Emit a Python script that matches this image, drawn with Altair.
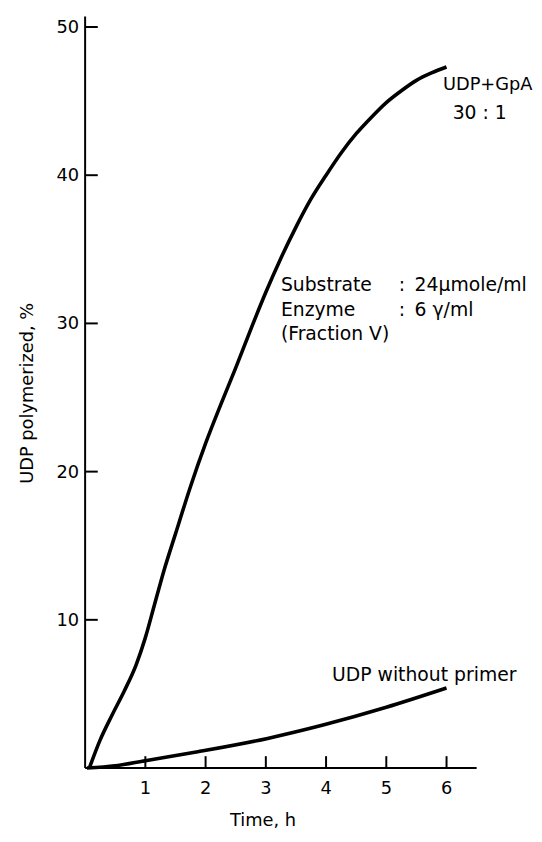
import altair as alt
import pandas as pd

# --- data ---
gpa_time = [0.07, 0.25, 0.45, 0.65, 0.85, 1.0, 1.15, 1.3, 1.5, 1.75, 2.0, 2.25, 2.5, 2.75,
            3.0, 3.25, 3.5, 3.75, 4.0, 4.25, 4.5, 4.75, 5.0, 5.25, 5.5, 5.75, 6.0]
gpa_pct = [0.0, 1.9, 3.6, 5.2, 7.0, 8.8, 11.0, 13.2, 15.8, 19.0, 21.9, 24.5, 27.0, 29.6,
           32.1, 34.4, 36.5, 38.4, 40.0, 41.5, 42.8, 43.9, 44.9, 45.7, 46.4, 46.9, 47.3]

udp_time = [0.03, 0.5, 1.0, 1.87, 3.03, 3.95, 5.0, 6.0]
udp_pct = [0.0, 0.15, 0.5, 1.1, 2.0, 2.9, 4.1, 5.4]

x_domain = [0, 6.5]
y_domain = [0, 50.7]
x_ticks = [1, 2, 3, 4, 5, 6]
y_ticks = [10, 20, 30, 40, 50]

x_title = ["Time, h"]
y_title = ["UDP polymerized, %"]

note_labels = ["Substrate", "Enzyme", "(Fraction V)", "24\u00b5mole/ml", "6 \u03b3/ml",
               "UDP without primer"]
note_x = [3.25, 3.25, 3.25, 5.47, 5.47, 4.10]
note_y = [32.6, 30.9, 29.3, 32.6, 30.9, 6.27]

series_labels = ["UDP+GpA"]
series_x = [5.94]
series_y = [46.1]

center_labels = ["30 : 1", ":", ":"]
center_x = [6.55, 5.26, 5.26]
center_y = [44.2, 32.6, 30.9]

FONT = "DejaVu Sans"
XTICK_LEN = 0.8    # inward tick length in y units (~12 px)
YTICK_LEN = 0.21   # inward tick length in x units (~13 px)

curves = pd.DataFrame(
    {"t": gpa_time + udp_time,
     "p": gpa_pct + udp_pct,
     "s": ["UDP+GpA"] * len(gpa_time) + ["UDP"] * len(udp_time)}
)
xt = pd.DataFrame({"tick_t": x_ticks})
yt = pd.DataFrame({"tick_p": y_ticks})

# tick segments built from the tick values
xseg = pd.DataFrame({
    "sx": [v for v in x_ticks for _ in range(2)],
    "sy": [e for _ in x_ticks for e in (0, XTICK_LEN)],
    "g": [f"x{v}" for v in x_ticks for _ in range(2)],
})
yseg = pd.DataFrame({
    "sx": [e for _ in y_ticks for e in (0, YTICK_LEN)],
    "sy": [v for v in y_ticks for _ in range(2)],
    "g": [f"y{v}" for v in y_ticks for _ in range(2)],
})

xdom = pd.DataFrame({"a": [x_domain[0]], "b": [x_domain[1]]})
ydom = pd.DataFrame({"a": [y_domain[0]], "b": [y_domain[1]]})
xtit = pd.DataFrame({"label": x_title})
ytit = pd.DataFrame({"label": y_title})
nt = pd.DataFrame({"t": note_x, "p": note_y, "label": note_labels})
st = pd.DataFrame({"t": series_x, "p": series_y, "label": series_labels})
ct = pd.DataFrame({"t": center_x, "p": center_y, "label": center_labels})

xscale = alt.Scale(domain=x_domain, nice=False, zero=True)
yscale = alt.Scale(domain=y_domain, nice=False, zero=True)

lines = alt.Chart(curves).mark_line(color="black", strokeWidth=3.6, interpolate="monotone").encode(
    x=alt.X("t:Q", scale=xscale, axis=None),
    y=alt.Y("p:Q", scale=yscale, axis=None),
    detail="s:N",
)

# axis lines
x_domain_line = alt.Chart(xdom).mark_rule(color="black", strokeWidth=2).encode(
    x=alt.X("a:Q", scale=xscale, axis=None),
    x2="b:Q",
    y=alt.Y(datum=0, scale=yscale, axis=None),
)
y_domain_line = alt.Chart(ydom).mark_rule(color="black", strokeWidth=2).encode(
    y=alt.Y("a:Q", scale=yscale, axis=None),
    y2="b:Q",
    x=alt.X(datum=0, scale=xscale, axis=None),
)

# inward-pointing ticks drawn as short segments
xtick_marks = alt.Chart(xseg).mark_line(color="black", strokeWidth=2).encode(
    x=alt.X("sx:Q", scale=xscale, axis=None),
    y=alt.Y("sy:Q", scale=yscale, axis=None),
    detail="g:N",
)
ytick_marks = alt.Chart(yseg).mark_line(color="black", strokeWidth=2).encode(
    x=alt.X("sx:Q", scale=xscale, axis=None),
    y=alt.Y("sy:Q", scale=yscale, axis=None),
    detail="g:N",
)

# tick labels
xtick_labels = alt.Chart(xt).mark_text(align="center", baseline="middle", font=FONT,
                                       fontSize=18, color="black").encode(
    x=alt.X("tick_t:Q", scale=xscale, axis=None),
    y=alt.value(781),
    text=alt.Text("tick_t:Q", format="d"),
)
ytick_labels = alt.Chart(yt).mark_text(align="right", baseline="middle", font=FONT,
                                       fontSize=18, color="black", dy=1).encode(
    y=alt.Y("tick_p:Q", scale=yscale, axis=None),
    x=alt.value(-6),
    text=alt.Text("tick_p:Q", format="d"),
)

# axis titles
x_title_text = alt.Chart(xtit).mark_text(align="center", baseline="alphabetic", font=FONT,
                                         fontSize=18, color="black").encode(
    x=alt.value(180), y=alt.value(819), text="label:N"
)
y_title_text = alt.Chart(ytit).mark_text(align="center", baseline="alphabetic", font=FONT,
                                         fontSize=18, color="black", angle=270).encode(
    x=alt.value(-53), y=alt.value(381), text="label:N"
)

note_text = alt.Chart(nt).mark_text(align="left", baseline="middle", font=FONT, fontSize=19,
                                    color="black").encode(
    x=alt.X("t:Q", scale=xscale, axis=None), y=alt.Y("p:Q", scale=yscale, axis=None),
    text="label:N"
)
series_text = alt.Chart(st).mark_text(align="left", baseline="middle", font=FONT, fontSize=18,
                                      color="black").encode(
    x=alt.X("t:Q", scale=xscale, axis=None), y=alt.Y("p:Q", scale=yscale, axis=None),
    text="label:N"
)
center_text = alt.Chart(ct).mark_text(align="center", baseline="middle", font=FONT, fontSize=19,
                                      color="black").encode(
    x=alt.X("t:Q", scale=xscale, axis=None), y=alt.Y("p:Q", scale=yscale, axis=None),
    text="label:N"
)

chart = alt.layer(
    lines, x_domain_line, y_domain_line, xtick_marks, ytick_marks,
    xtick_labels, ytick_labels, x_title_text, y_title_text,
    note_text, series_text, center_text,
).properties(
    width=396,
    height=760,
    autosize=alt.AutoSizeParams(type="none"),
    padding={"left": 78, "top": 4, "right": 58, "bottom": 62},
    background="white",
).configure_view(stroke=None)

chart.save("out.html", embed_options={"renderer": "svg", "actions": False})
